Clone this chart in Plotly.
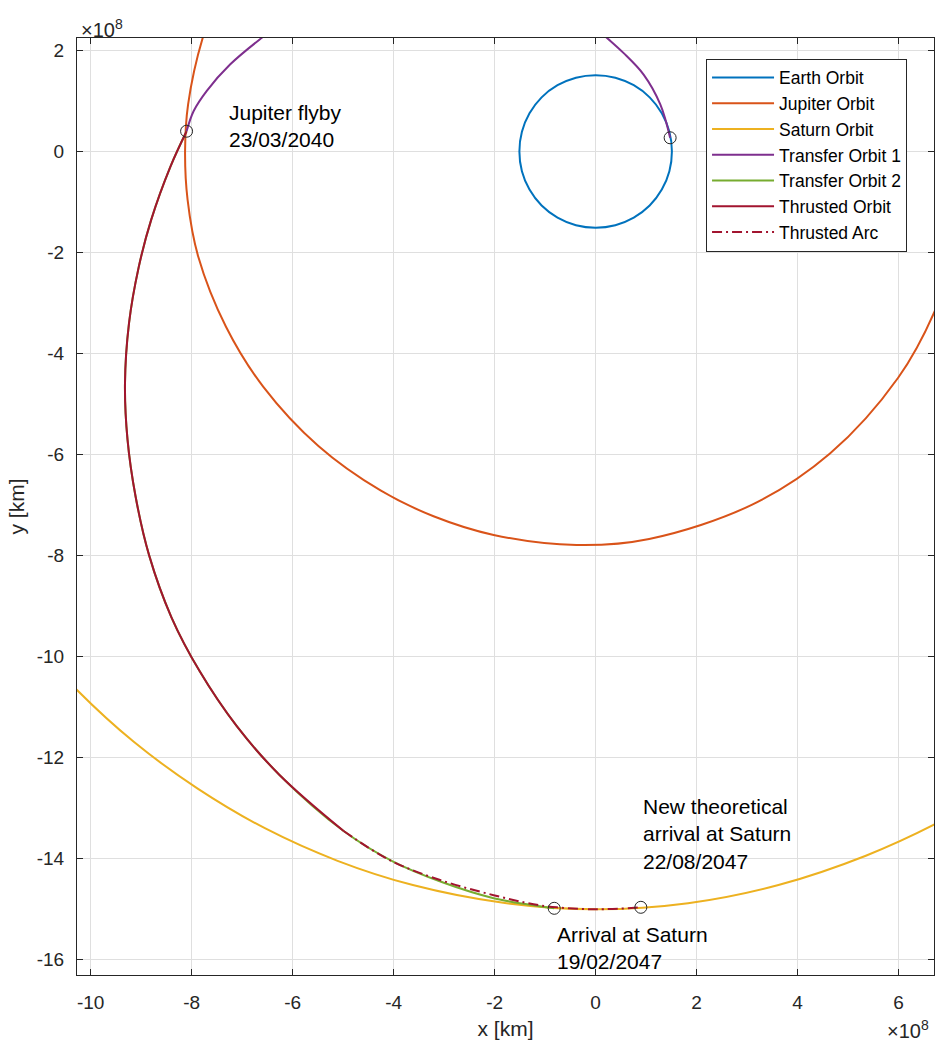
import plotly.graph_objects as go

# ---------------- data (units of 1e8 km) ----------------
SCALE = 1e8

earth_x = [1.51, 1.46, 1.31, 1.07, 0.755, 0.39, 0.0, -0.39, -0.755, -1.07, -1.31, -1.46,
           -1.51, -1.46, -1.31, -1.07, -0.755, -0.39, 0.0, 0.39, 0.755, 1.07, 1.31, 1.46, 1.51]
earth_y = [0.0, 0.39, 0.755, 1.07, 1.31, 1.46, 1.51, 1.46, 1.31, 1.07, 0.755, 0.39,
           0.0, -0.39, -0.755, -1.07, -1.31, -1.46, -1.51, -1.46, -1.31, -1.07, -0.755, -0.39, 0.0]

jupiter_x = [-7.47, -7.78, -8.07, -8.13, -8.08, -7.87, -7.32, -6.58, -5.49, -4.26, -3.21,
             -2.02, -0.38, 1.06, 3.10, 4.64, 5.99, 6.71, 7.13]
jupiter_y = [3.06, 2.25, 0.93, 0.00, -0.96, -2.08, -3.47, -4.66, -5.83, -6.71, -7.22,
             -7.59, -7.79, -7.67, -6.99, -5.98, -4.48, -3.17, -1.91]

saturn_x = [-10.98, -10.28, -9.14, -7.88, -6.54, -5.11, -3.62, -1.83, 0.00, 1.83, 3.62,
            5.35, 6.77, 7.90]
saturn_y = [-9.88, -10.65, -11.69, -12.61, -13.40, -14.04, -14.52, -14.87, -15.00, -14.88,
            -14.52, -13.94, -13.29, -12.64]

transfer1_x = [1.475, 1.28, 0.95, 0.55, 0.22, -0.30, -1.50, -3.00, -4.50, -5.80, -6.61,
               -7.24, -7.70, -7.96, -8.10]
transfer1_y = [0.27, 0.93, 1.52, 1.95, 2.25, 2.70, 3.35, 3.60, 3.40, 2.85, 2.25,
               1.72, 1.20, 0.80, 0.40]

transfer2_x = [-8.10, -8.42, -8.80, -9.05, -9.24, -9.32, -9.27, -9.11, -8.84, -8.40, -7.84,
               -7.11, -6.26, -4.99, -4.02, -3.02, -2.02, -1.23, -0.82]
transfer2_y = [0.40, -0.30, -1.35, -2.30, -3.40, -4.60, -5.70, -6.83, -8.00, -9.22, -10.29,
               -11.37, -12.34, -13.45, -14.05, -14.47, -14.78, -14.92, -14.98]

thrusted_x = [-8.10, -8.42, -8.80, -9.05, -9.24, -9.32, -9.27, -9.11, -8.84, -8.40, -7.84,
              -7.11, -6.26, -4.99]
thrusted_y = [0.40, -0.30, -1.35, -2.30, -3.40, -4.60, -5.70, -6.83, -8.00, -9.22, -10.29,
              -11.37, -12.34, -13.45]

arc_x = [-4.99, -4.07, -3.08, -2.02, -1.23, -0.77, 0.02, 0.895]
arc_y = [-13.45, -14.03, -14.42, -14.72, -14.90, -14.96, -15.00, -14.96]

marker_x = [1.475, -8.10, -0.82, 0.895]
marker_y = [0.27, 0.40, -14.98, -14.96]

label_text = ["Jupiter flyby<br>23/03/2040",
              "New theoretical<br>arrival at Saturn<br>22/08/2047",
              "Arrival at Saturn<br>19/02/2047"]
label_x = [-7.30, 0.895, -0.80]
label_y = [0.51, -13.50, -15.77]

xtick_vals = [-10, -8, -6, -4, -2, 0, 2, 4, 6]
xtick_text = ["-10", "-8", "-6", "-4", "-2", "0", "2", "4", "6"]
ytick_vals = [-16, -14, -12, -10, -8, -6, -4, -2, 0, 2]
ytick_text = ["-16", "-14", "-12", "-10", "-8", "-6", "-4", "-2", "0", "2"]

series_names = ["Earth Orbit", "Jupiter Orbit", "Saturn Orbit", "Transfer Orbit 1",
                "Transfer Orbit 2", "Thrusted Orbit", "Thrusted Arc"]
series_colors = ["#0072BD", "#D95319", "#EDB120", "#7E2F8E", "#77AC30", "#A2142F", "#A2142F"]


def km(v):
    return [u * SCALE for u in v]


FONT = "Liberation Sans, Arial, Helvetica, sans-serif"
AX = "#262626"

fig = go.Figure()
series = [(earth_x, earth_y), (jupiter_x, jupiter_y), (saturn_x, saturn_y),
          (transfer1_x, transfer1_y), (transfer2_x, transfer2_y),
          (thrusted_x, thrusted_y), (arc_x, arc_y)]
for (sx, sy), name, col in zip(series, series_names, series_colors):
    dash = "10px,4px,2px,4px" if name == "Thrusted Arc" else "solid"
    fig.add_trace(go.Scatter(
        x=km(sx), y=km(sy), mode="lines", name=name,
        line=dict(color=col, width=2, shape="spline", dash=dash),
        hoverinfo="skip"))

fig.add_trace(go.Scatter(
    x=km(marker_x), y=km(marker_y), mode="markers", showlegend=False,
    marker=dict(symbol="circle-open", size=12, color=AX, line=dict(width=1, color=AX)),
    hoverinfo="skip"))

for t, lx, ly in zip(label_text, label_x, label_y):
    fig.add_annotation(x=lx * SCALE, y=ly * SCALE, xref="x", yref="y", text=t,
                       showarrow=False, xanchor="left", yanchor="middle", align="left",
                       font=dict(family=FONT, size=21, color="#000000"))

fig.add_annotation(x=0.002, y=1.0, xref="paper", yref="paper", text="×10<sup>8</sup>",
                   showarrow=False, xanchor="left", yanchor="bottom", yshift=-5,
                   font=dict(family=FONT, size=20, color=AX))
fig.add_annotation(x=0.9965, y=-0.0735, xref="paper", yref="paper", text="×10<sup>8</sup>",
                   showarrow=False, xanchor="right", yanchor="bottom",
                   font=dict(family=FONT, size=20, color=AX))

axis_common = dict(
    showgrid=True, gridcolor="#dfdfdf", gridwidth=1, zeroline=False,
    showline=True, linecolor=AX, linewidth=1, mirror="ticks",
    ticks="inside", ticklen=6, tickwidth=1, tickcolor=AX,
    tickfont=dict(family=FONT, size=19, color=AX),
)

fig.update_layout(
    width=938, height=1045,
    margin=dict(l=77, r=4, t=38, b=70),
    paper_bgcolor="white", plot_bgcolor="white",
    font=dict(family=FONT, color=AX),
    xaxis=dict(range=[-10.27 * SCALE, 6.70 * SCALE], tickvals=km(xtick_vals), ticktext=xtick_text,
               title=dict(text="x [km]", font=dict(family=FONT, size=21, color=AX), standoff=9),
               ticklabelstandoff=10, **axis_common),
    yaxis=dict(range=[-16.30 * SCALE, 2.245 * SCALE], tickvals=km(ytick_vals), ticktext=ytick_text,
               title=dict(text="y [km]", font=dict(family=FONT, size=21, color=AX), standoff=6),
               ticklabelstandoff=8, **axis_common),
    legend=dict(x=0.734, y=0.978, xanchor="left", yanchor="top",
                bgcolor="white", bordercolor=AX, borderwidth=1,
                font=dict(family=FONT, size=17.5, color="#000000"),
                itemwidth=62, traceorder="normal"),
    showlegend=True,
)

fig.write_html("out.html")
